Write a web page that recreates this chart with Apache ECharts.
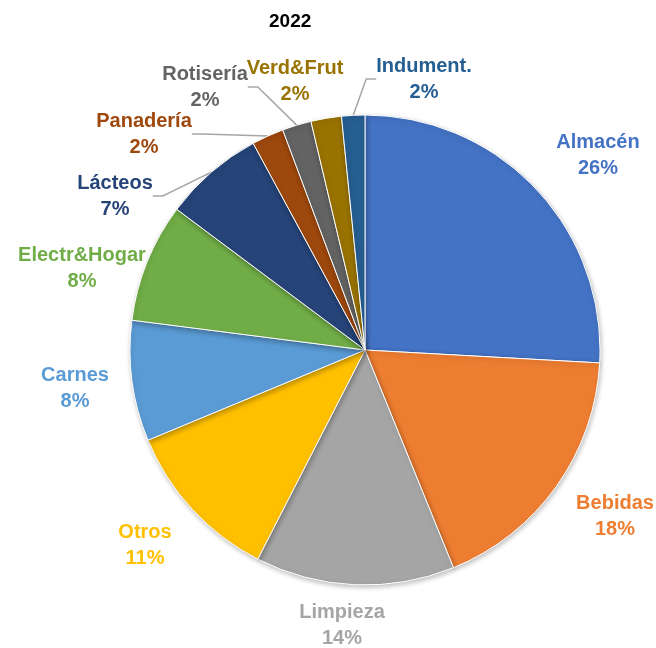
<!DOCTYPE html>
<html>
<head>
<meta charset="utf-8">
<script src="https://cdn.jsdelivr.net/npm/echarts@6/dist/echarts.min.js"></script>
<style>
  html, body { margin: 0; padding: 0; background: #fff; }
  #chart { width: 656px; height: 648px; }
</style>
</head>
<body>
<div id="chart"></div>
<script>
// data (share of 2022, %)
const categories = ['Almacén', 'Bebidas', 'Limpieza', 'Otros', 'Carnes', 'Electr&Hogar', 'Lácteos', 'Panadería', 'Rotisería', 'Verd&Frut', 'Indument.']
const values = [25.9, 18.0, 13.7, 11.2, 8.3, 8.2, 6.9, 2.2, 2.0, 2.1, 1.6]
const colors = ['#4472C4', '#ED7D31', '#A5A5A5', '#FFC000', '#5B9BD5', '#70AD47', '#264478', '#9E480E', '#636363', '#997300', '#255E91']
const withLeader = [false, false, false, false, false, false, true, true, true, false, true]

// where the label blocks sit (centre of the two text lines)
const labelSpots = [
  [598, 155], [615, 516], [342, 625], [145, 545], [75, 388], [82, 268],
  [115, 196], [144, 134], [205, 87], [295, 81], [424, 79],
]

const chart = echarts.init(document.getElementById('chart'))

const option = {
  title: {
    text: '2022',
    left: 264,
    top: 7,
    textStyle: { fontFamily: 'Liberation Sans', fontSize: 19, fontWeight: 'bold', color: '#000' },
  },
  series: [
    {
      type: 'pie',
      center: [365, 350],
      radius: 235,
      startAngle: 90,
      clockwise: true,
      avoidLabelOverlap: false,
      percentPrecision: 0,
      itemStyle: {
        borderColor: '#fff',
        borderWidth: 1,
        shadowBlur: 5,
        shadowColor: 'rgba(0,0,0,0.25)',
        shadowOffsetX: 1,
        shadowOffsetY: 2,
      },
      label: {
        show: true,
        position: 'outside',
        formatter: '{b}\n{d}%',
        fontFamily: 'Liberation Sans',
        fontSize: 20,
        fontWeight: 'bold',
        lineHeight: 26,
        align: 'center',
      },
      labelLine: {
        lineStyle: { color: '#A6A6A6', width: 1.5 },
        length: 10,
        length2: 10,
      },
      labelLayout: (params) => {
        const p = labelSpots[params.dataIndex]
        return { x: p[0], y: p[1], align: 'center', verticalAlign: 'middle' }
      },
      data: categories.map((name, i) => ({
        name,
        value: values[i],
        itemStyle: { color: colors[i] },
        label: { color: colors[i] },
        labelLine: { show: withLeader[i] },
      })),
    },
  ],
}

chart.setOption(option)
</script>
</body>
</html>
